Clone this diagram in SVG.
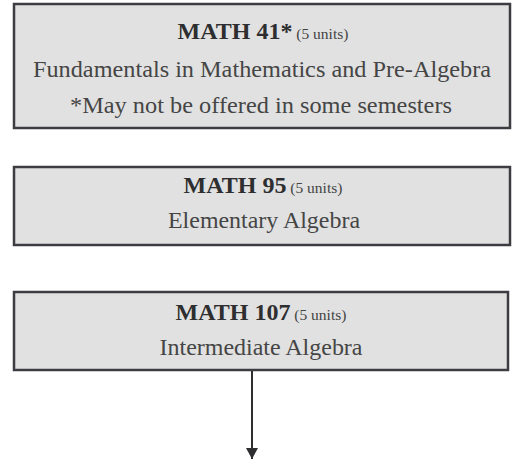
<svg xmlns="http://www.w3.org/2000/svg" width="512" height="462" viewBox="0 0 512 462">
<style>
.box{fill:#e1e1e1;stroke:#3c3d42;stroke-width:2.5}
.t{font-family:"Liberation Serif","Times New Roman",serif;fill:#3a3a3a;text-anchor:middle}
.b{font-weight:bold;fill:#2e2e30;font-size:24px}
.u{font-size:15.5px;fill:#444}
.r{font-size:23.5px;fill:#454545}
.h{font-size:24px}
</style>
<defs>
<marker id="ah" markerWidth="12" markerHeight="12" refX="11" refY="6" orient="auto" markerUnits="userSpaceOnUse">
<path d="M0,0 L11,6 L0,12 Z" fill="#2e2e30"/>
</marker>
</defs>
<rect width="512" height="462" fill="#ffffff"/>
<g id="math41">
<rect class="box" x="14" y="4" width="496" height="124"/>
<text class="t h" x="263" y="39"><tspan class="b">MATH 41*</tspan><tspan class="u"> (5 units)</tspan></text>
<text class="t r" x="262" y="77" textLength="458" lengthAdjust="spacingAndGlyphs">Fundamentals in Mathematics and Pre-Algebra</text>
<text class="t r" x="261" y="113" textLength="382" lengthAdjust="spacingAndGlyphs">*May not be offered in some semesters</text>
</g>
<g id="math95">
<rect class="box" x="14" y="167" width="496" height="78"/>
<text class="t h" x="263" y="193"><tspan class="b">MATH 95</tspan><tspan class="u"> (5 units)</tspan></text>
<text class="t r" x="264" y="228" textLength="192" lengthAdjust="spacingAndGlyphs">Elementary Algebra</text>
</g>
<g id="math107">
<rect class="box" x="14" y="292" width="494" height="78"/>
<text class="t h" x="261" y="320"><tspan class="b">MATH 107</tspan><tspan class="u"> (5 units)</tspan></text>
<text class="t r" x="261" y="355" textLength="203" lengthAdjust="spacingAndGlyphs">Intermediate Algebra</text>
</g>
<g id="connectors">
<line x1="252" y1="371" x2="252" y2="459" stroke="#2e2e30" stroke-width="2" marker-end="url(#ah)"/>
</g>
</svg>
